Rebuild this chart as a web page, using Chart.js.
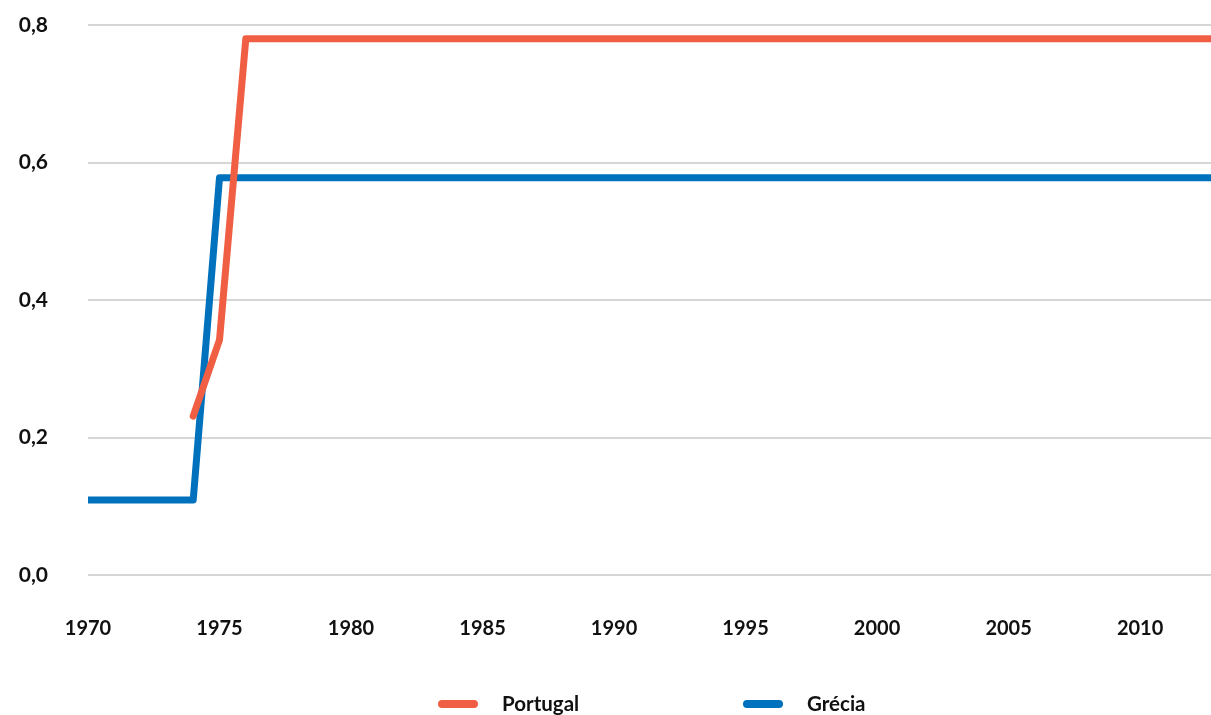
<!DOCTYPE html>
<html>
<head>
<meta charset="utf-8">
<script src="https://cdn.jsdelivr.net/npm/chart.js@4.4.1/dist/chart.umd.min.js"></script>
<style>
  html, body { margin: 0; padding: 0; background: #fff; overflow: hidden; }
  canvas { display: block; }
</style>
</head>
<body>
<canvas id="chart" width="1222" height="715"></canvas>
<script>
// --- data ---
const years = [1970, 1971, 1972, 1973, 1974, 1975, 1976, 1977, 1978, 1979,
               1980, 1981, 1982, 1983, 1984, 1985, 1986, 1987, 1988, 1989,
               1990, 1991, 1992, 1993, 1994, 1995, 1996, 1997, 1998, 1999,
               2000, 2001, 2002, 2003, 2004, 2005, 2006, 2007, 2008, 2009,
               2010, 2011, 2012, 2013];
const portugal = [null, null, null, null, 0.231, 0.342, 0.78, 0.78, 0.78, 0.78,
                  0.78, 0.78, 0.78, 0.78, 0.78, 0.78, 0.78, 0.78, 0.78, 0.78,
                  0.78, 0.78, 0.78, 0.78, 0.78, 0.78, 0.78, 0.78, 0.78, 0.78,
                  0.78, 0.78, 0.78, 0.78, 0.78, 0.78, 0.78, 0.78, 0.78, 0.78,
                  0.78, 0.78, 0.78, 0.78];
const grecia = [0.109, 0.109, 0.109, 0.109, 0.109, 0.578, 0.578, 0.578, 0.578, 0.578,
                0.578, 0.578, 0.578, 0.578, 0.578, 0.578, 0.578, 0.578, 0.578, 0.578,
                0.578, 0.578, 0.578, 0.578, 0.578, 0.578, 0.578, 0.578, 0.578, 0.578,
                0.578, 0.578, 0.578, 0.578, 0.578, 0.578, 0.578, 0.578, 0.578, 0.578,
                0.578, 0.578, 0.578, 0.578];
const seriesNames = ['Portugal', 'Grécia'];
const seriesColors = ['#F05E43', '#0071BC'];
const yTicks = [0, 0.2, 0.4, 0.6, 0.8];

const FONT = 'Lato, "Open Sans", sans-serif';

function toPoints(vals) {
    return years.map((yr, i) => ({ x: yr, y: vals[i] }));
}

// custom bottom legend: rounded line swatch + label
const bottomLegend = {
    id: 'bottomLegend',
    afterDraw(chart) {
        const ctx = chart.ctx;
        const startX = [438, 743];
        const y = 704;
        ctx.save();
        chart.data.datasets.forEach((ds, i) => {
            ctx.strokeStyle = ds.borderColor;
            ctx.lineWidth = 8;
            ctx.lineCap = 'round';
            ctx.beginPath();
            ctx.moveTo(startX[i] + 4, y);
            ctx.lineTo(startX[i] + 36, y);
            ctx.stroke();
            ctx.fillStyle = '#111';
            ctx.font = 'bold 20.5px ' + FONT;
            ctx.textBaseline = 'middle';
            ctx.textAlign = 'left';
            ctx.fillText(ds.label, startX[i] + 64, y);
        });
        ctx.restore();
    }
};

new Chart(document.getElementById('chart'), {
    type: 'line',
    data: {
        datasets: [
            {
                label: seriesNames[0],
                data: toPoints(portugal),
                borderColor: seriesColors[0],
                backgroundColor: seriesColors[0],
                borderWidth: 7,
                pointRadius: 0,
                borderJoinStyle: 'round',
                borderCapStyle: 'round',
                spanGaps: false
            },
            {
                label: seriesNames[1],
                data: toPoints(grecia),
                borderColor: seriesColors[1],
                backgroundColor: seriesColors[1],
                borderWidth: 7,
                pointRadius: 0,
                borderJoinStyle: 'round',
                borderCapStyle: 'round'
            }
        ]
    },
    options: {
        responsive: false,
        animation: false,
        layout: { padding: { top: 25, right: 3, bottom: 0, left: 0 } },
        plugins: {
            legend: { display: false },
            tooltip: { enabled: false }
        },
        scales: {
            x: {
                type: 'linear',
                min: years[0],
                max: years[years.length - 1],
                afterFit: s => { s.height = 140; s.paddingLeft = 0; s.paddingRight = 0; },
                border: { display: false },
                grid: { display: false },
                ticks: {
                    stepSize: 5,
                    includeBounds: false,
                    maxRotation: 0,
                    padding: 34,
                    color: '#111',
                    font: { family: FONT, size: 20, weight: 'bold' },
                    callback: v => String(v)
                }
            },
            y: {
                min: yTicks[0],
                max: yTicks[yTicks.length - 1],
                afterFit: s => { s.width = 88; s.paddingTop = 0; s.paddingBottom = 0; },
                afterBuildTicks: s => { s.ticks = yTicks.map(v => ({ value: v })); },
                border: { display: false },
                grid: { color: '#D6D6D6', lineWidth: 2, drawTicks: false },
                ticks: {
                    padding: 40,
                    color: '#111',
                    font: { family: FONT, size: 21, weight: 'bold' },
                    callback: v => v.toFixed(1).replace('.', ',')
                }
            }
        }
    },
    plugins: [bottomLegend]
});
</script>
</body>
</html>
